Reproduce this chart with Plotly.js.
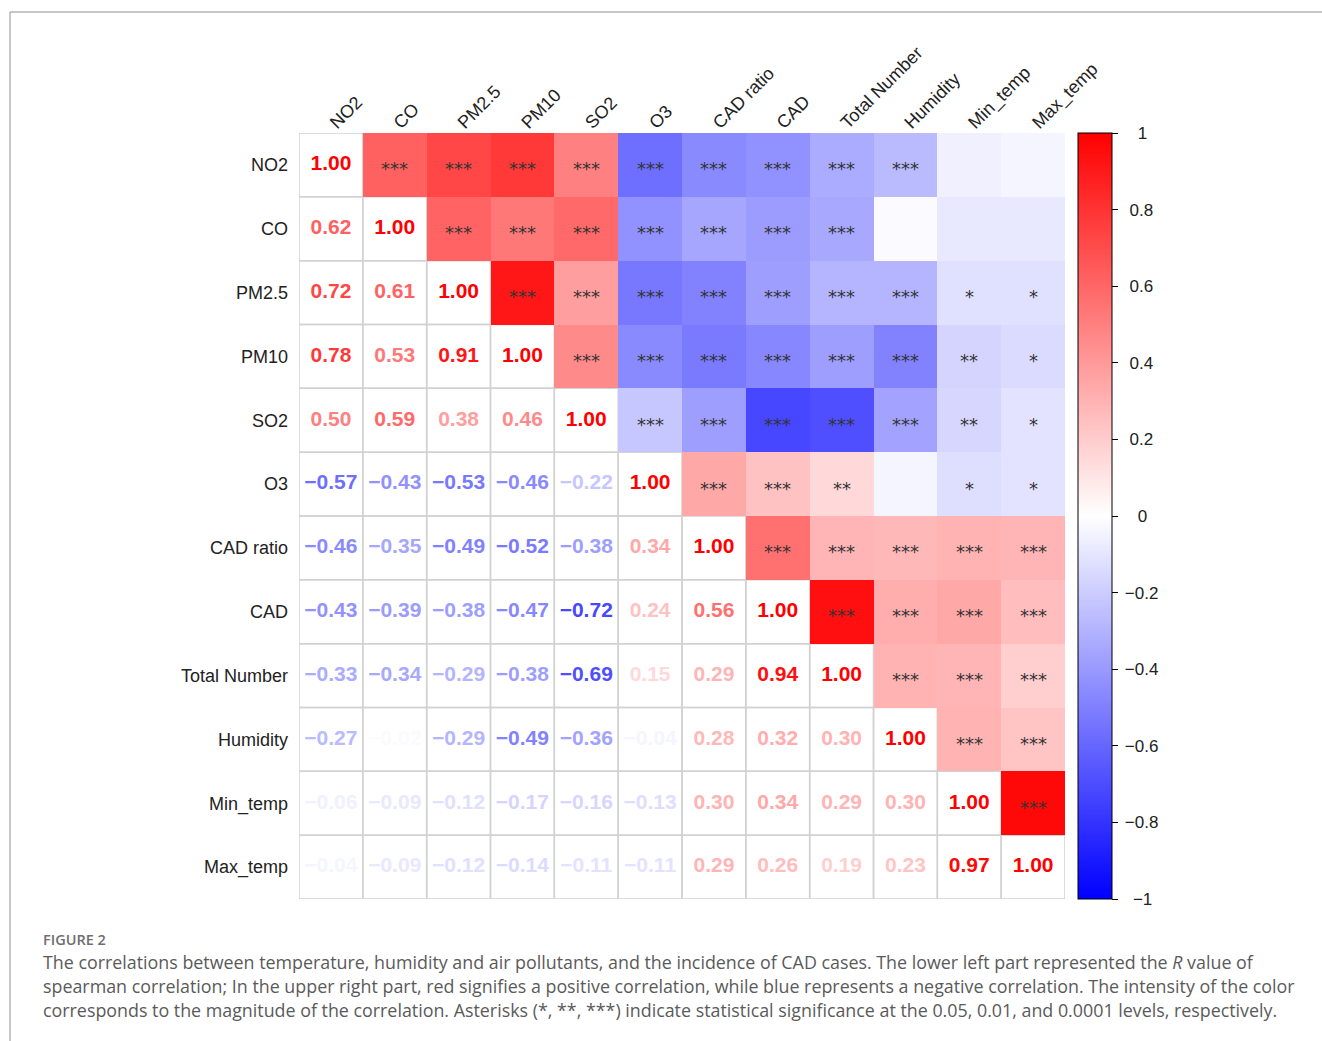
<!DOCTYPE html>
<html>
<head>
<meta charset="utf-8">
<script src="https://cdn.plot.ly/plotly-3.0.1.min.js"></script>
<style>
  html, body { margin: 0; padding: 0; background: #ffffff; }
  #chart { width: 1322px; height: 1041px; }
</style>
</head>
<body>
<div id="chart"></div>
<script>
// Variables of the correlation matrix, in row/column order
const variables = ['NO2', 'CO', 'PM2.5', 'PM10', 'SO2', 'O3', 'CAD ratio', 'CAD',
                   'Total Number', 'Humidity', 'Min_temp', 'Max_temp'];

// Spearman R, lower triangle (each row lists the columns before the diagonal)
const rNO2      = [];
const rCO       = [0.62];
const rPM25     = [0.72, 0.61];
const rPM10     = [0.78, 0.53, 0.91];
const rSO2      = [0.50, 0.59, 0.38, 0.46];
const rO3       = [-0.57, -0.43, -0.53, -0.46, -0.22];
const rCADratio = [-0.46, -0.35, -0.49, -0.52, -0.38, 0.34];
const rCAD      = [-0.43, -0.39, -0.38, -0.47, -0.72, 0.24, 0.56];
const rTotal    = [-0.33, -0.34, -0.29, -0.38, -0.69, 0.15, 0.29, 0.94];
const rHumidity = [-0.27, -0.02, -0.29, -0.49, -0.36, -0.04, 0.28, 0.32, 0.30];
const rMinTemp  = [-0.06, -0.09, -0.12, -0.17, -0.16, -0.13, 0.30, 0.34, 0.29, 0.30];
const rMaxTemp  = [-0.04, -0.09, -0.12, -0.14, -0.11, -0.11, 0.29, 0.26, 0.19, 0.23, 0.97];

// Significance marks, upper triangle (each row lists the columns after the diagonal)
const sNO2      = ['***', '***', '***', '***', '***', '***', '***', '***', '***', '', ''];
const sCO       = ['***', '***', '***', '***', '***', '***', '***', '', '', ''];
const sPM25     = ['***', '***', '***', '***', '***', '***', '***', '*', '*'];
const sPM10     = ['***', '***', '***', '***', '***', '***', '**', '*'];
const sSO2      = ['***', '***', '***', '***', '***', '**', '*'];
const sO3       = ['***', '***', '**', '', '*', '*'];
const sCADratio = ['***', '***', '***', '***', '***'];
const sCAD      = ['***', '***', '***', '***'];
const sTotal    = ['***', '***', '***'];
const sHumidity = ['***', '***'];
const sMinTemp  = ['***'];
const sMaxTemp  = [];

// Colour bar tick values
const barTicks = [-1, -0.8, -0.6, -0.4, -0.2, 0, 0.2, 0.4, 0.6, 0.8, 1];

const lowerRows = [rNO2, rCO, rPM25, rPM10, rSO2, rO3, rCADratio, rCAD, rTotal, rHumidity, rMinTemp, rMaxTemp];
const starRows  = [sNO2, sCO, sPM25, sPM10, sSO2, sO3, sCADratio, sCAD, sTotal, sHumidity, sMinTemp, sMaxTemp];
const n = variables.length;

// Full symmetric matrix
function corr(i, j) {
  if (i === j) return 1;
  return i > j ? lowerRows[i][j] : lowerRows[j][i];
}

// Blue - white - red diverging scale
const scale = [[0, '#0000ff'], [0.5, '#ffffff'], [1, '#ff0000']];
function colourOf(v) {
  const t = Math.max(0, 1 - Math.abs(v));
  const c = Math.round(255 * t);
  return v >= 0 ? `rgb(255,${c},${c})` : `rgb(${c},${c},255)`;
}
function fmt(v) {
  const s = Math.abs(v).toFixed(2);
  return v < 0 ? '\u2212' + s : s;
}

// Upper triangle heat cells
const zUpper = [];
for (let i = 0; i < n; i++) {
  const row = [];
  for (let j = 0; j < n; j++) row.push(j > i ? corr(i, j) : null);
  zUpper.push(row);
}

const labelFont = 'Liberation Sans, Arial, Helvetica, sans-serif';
const starFont = 'DejaVu Sans, Liberation Sans, sans-serif';

// Lower triangle + diagonal numbers; upper triangle stars (as cell annotations)
const numX = [], numY = [], numT = [], numC = [];
const annotations = [];
for (let i = 0; i < n; i++) {
  for (let j = 0; j < n; j++) {
    if (j <= i) {
      const v = corr(i, j);
      numX.push(variables[j]); numY.push(variables[i]);
      numT.push(fmt(v)); numC.push(colourOf(v));
    } else {
      const s = starRows[i][j - i - 1];
      if (s) {
        annotations.push({
          xref: 'x', yref: 'y', x: variables[j], y: variables[i],
          text: s, showarrow: false, xanchor: 'center', yanchor: 'middle', yshift: -4,
          font: { family: starFont, size: 18, color: '#333333' }
        });
      }
    }
  }
}

// Colour-bar labels, nudged with thin spaces so they sit centred
function barLabel(v) {
  const s = v === 0 ? '0' : (Math.abs(v) === 1 ? fmt(v).replace('.00', '') : fmt(v).replace(/0$/, ''));
  let pad = '\u2009';
  if (v > 0 && v < 1) pad += '\u2008';
  else if (v === 0 || v === 1) pad += '\u2007\u2009';
  else if (v === -1) pad += '\u2008\u2009';
  return pad + s;
}

const traces = [
  {
    type: 'heatmap',
    x: variables, y: variables, z: zUpper,
    zmin: -1, zmax: 1,
    colorscale: scale,
    hoverinfo: 'skip',
    colorbar: {
      thickness: 34, len: 1, lenmode: 'fraction',
      x: 1.017, xanchor: 'left', y: 0.5, yanchor: 'middle',
      xpad: 0, ypad: 0,
      outlinecolor: '#000000', outlinewidth: 1,
      ticks: 'outside', ticklen: 6, tickcolor: '#000000', tickwidth: 1,
      tickvals: barTicks,
      ticktext: barTicks.map(barLabel),
      tickfont: { family: labelFont, size: 17, color: '#222222' }
    }
  },
  {
    type: 'scatter', mode: 'text',
    x: numX, y: numY, text: numT,
    textposition: 'middle center',
    textfont: { family: labelFont, size: 21, color: numC, weight: 'bold' },
    hoverinfo: 'skip', showlegend: false
  }
];

// Cell borders around the numbered (lower) half
const shapes = [];
for (let i = 0; i < n; i++) {
  for (let j = 0; j <= i; j++) {
    shapes.push({
      type: 'rect', xref: 'x', yref: 'y', layer: 'below',
      x0: j - 0.5, x1: j + 0.5, y0: i - 0.5, y1: i + 0.5,
      line: { color: '#d2d2d2', width: 1.5 }, fillcolor: 'rgba(0,0,0,0)'
    });
  }
}

// Page frame (pixel -> paper conversion for the fixed margins)
const M = { l: 299, r: 257, t: 133, b: 142 };
const PW = 1322 - M.l - M.r, PH = 1041 - M.t - M.b;
const fx = p => (p - M.l) / PW;
const fy = p => (1041 - M.b - p) / PH;
shapes.push({ type: 'line', xref: 'paper', yref: 'paper', x0: fx(10), x1: fx(1322), y0: fy(12), y1: fy(12),
              line: { color: '#b4b4b4', width: 1.5 } });
shapes.push({ type: 'line', xref: 'paper', yref: 'paper', x0: fx(10), x1: fx(10), y0: fy(12), y1: fy(1041),
              line: { color: '#b4b4b4', width: 1.5 } });

const captionFont = 'Open Sans, Noto Sans, sans-serif';
const captionLines = [
  'The correlations between temperature, humidity and air pollutants, and the incidence of CAD cases. The lower left part represented the <i>R</i> value of',
  'spearman correlation; In the upper right part, red signifies a positive correlation, while blue represents a negative correlation. The intensity of the color',
  'corresponds to the magnitude of the correlation. Asterisks (*, **, ***) indicate statistical significance at the 0.05, 0.01, and 0.0001 levels, respectively.'
];
annotations.push({
  xref: 'paper', yref: 'paper', x: fx(41), y: fy(939), xanchor: 'left', yanchor: 'middle',
  text: 'FIGURE 2', showarrow: false,
  font: { family: captionFont, size: 14.5, color: '#6e6e6e', weight: 600 }
});
captionLines.forEach((t, k) => annotations.push({
  xref: 'paper', yref: 'paper', x: fx(41), y: fy(962 + 24 * k), xanchor: 'left', yanchor: 'middle',
  text: t, showarrow: false,
  font: { family: captionFont, size: 17.85, color: '#5a5a5a' }
}));

const layout = {
  width: 1322, height: 1041,
  margin: M,
  paper_bgcolor: '#ffffff', plot_bgcolor: '#ffffff',
  showlegend: false,
  xaxis: {
    type: 'category', side: 'top', range: [-0.5, n - 0.5],
    tickangle: -45, showgrid: false, zeroline: false, showline: false, ticks: '',
    ticklabelstandoff: -4,
    tickfont: { family: labelFont, size: 18, color: '#222222' },
    fixedrange: true
  },
  yaxis: {
    type: 'category', range: [n - 0.5, -0.5],
    showgrid: false, zeroline: false, showline: false, ticks: '',
    ticklabelstandoff: 10,
    tickfont: { family: labelFont, size: 18, color: '#222222' },
    fixedrange: true
  },
  shapes: shapes,
  annotations: annotations
};

Plotly.newPlot('chart', traces, layout, { staticPlot: true, displayModeBar: false });
</script>
</body>
</html>
